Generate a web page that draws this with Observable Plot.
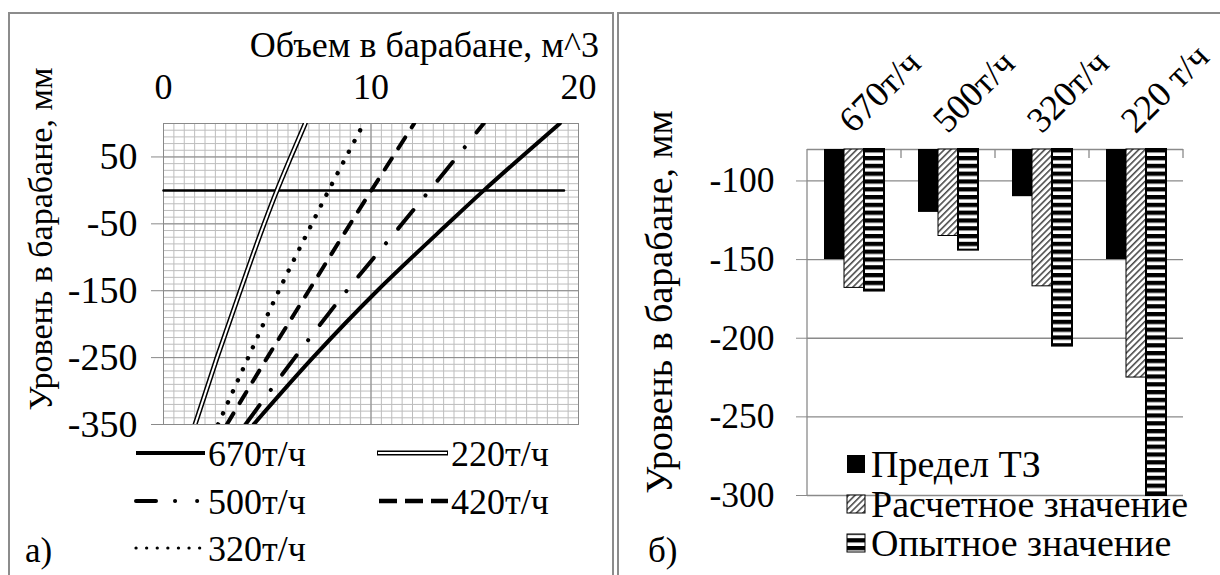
<!DOCTYPE html>
<html><head><meta charset="utf-8">
<script src="https://cdn.jsdelivr.net/npm/d3@7"></script>
<script src="https://cdn.jsdelivr.net/npm/@observablehq/plot@0.6"></script>
<style>
body{margin:0;background:#fff;}
#root{position:relative;width:1220px;height:575px;overflow:hidden;font-family:'Liberation Serif','Times New Roman','DejaVu Serif',serif;color:#000;background:#fff;}
.plot{position:absolute;top:0;}
.bl{position:absolute;background:#8c8c8c;}
#overlay{position:absolute;left:0;top:0;pointer-events:none;}
</style></head>
<body><div id="root">
<svg width="0" height="0" style="position:absolute">
<defs>
<pattern id="hatch" patternUnits="userSpaceOnUse" width="4.5" height="4.5" patternTransform="rotate(45)">
<rect width="4.5" height="4.5" fill="#fff"/>
<line x1="0.8" y1="0" x2="0.8" y2="4.5" stroke="#333" stroke-width="1.4"/>
</pattern>
<pattern id="stripes" patternUnits="userSpaceOnUse" width="10" height="7.8">
<rect width="10" height="7.8" fill="#fff"/>
<rect width="10" height="4.3" fill="#000"/>
</pattern>
</defs></svg>
<div class="bl" style="left:8px;top:12px;width:1.5px;height:563px"></div>
<div class="bl" style="left:8px;top:12px;width:605px;height:1.5px"></div>
<div class="bl" style="left:612px;top:12px;width:1.5px;height:563px"></div>
<div class="bl" style="left:617px;top:12px;width:1.5px;height:563px"></div>
<div class="bl" style="left:617px;top:12px;width:603px;height:1.5px"></div>
</div>
<script>
// ---------- Left chart data (a) ----------
const yLevels = [-350, -250, -150, -50, 0, 50, 100];
const x670 = [4.34, 7.2, 10.3, 13.7, 15.44, 17.25, 19.1];
const x500 = [3.95, 6.33, 8.83, 11.5, 12.82, 14.14, 15.43];
const x420 = [3.05, 5.0, 7.0, 9.0, 10.02, 11.05, 12.08];
const x320 = [2.63, 4.08, 5.56, 7.15, 7.96, 8.8, 9.65];
const x220 = [1.52, 2.58, 3.7, 4.85, 5.47, 6.14, 6.83];
const zeroLineX = [0, 19.3];
const zeroLineY = [0, 0];
const xTicksLeft = [0, 10, 20];
const yTicksLeft = [50, -50, -150, -250, -350];
const leftXTitle = "Объем в барабане, м^3";
const yTitle = "Уровень в барабане, мм";
const legendLeft = ["670т/ч", "220т/ч", "500т/ч", "420т/ч", "320т/ч"];

// ---------- Right chart data (б) ----------
const categories = ["670т/ч", "500т/ч", "320т/ч", "220 т/ч"];
const seriesNames = ["Предел ТЗ", "Расчетное значение", "Опытное значение"];
const limitTZ = [-150, -120, -110, -150];
const calcValue = [-168, -135, -167, -225];
const expValue = [-170, -144, -205, -300];
const yTicksRight = [-100, -150, -200, -250, -300];
const axisTop = -80;

const FONT = "'Liberation Serif','Times New Roman','DejaVu Serif',serif";
const FS_L_XTICK = 36, FS_L_YTICK = 38, FS_L_TITLE = 36, FS_L_YLAB = 34, FS_L_LEG = 36;
const FS_R_TICK = 35.5, FS_R_CAT = 36, FS_R_YLAB = 38, FS_R_LEG = 38;
const GRID_MINOR = "#bdbdbd";
const GRID_MAJOR = "#8a8a8a";
const fmt = d => String(d);

const root = document.getElementById("root");

// ---- Left plot ----
const rows = yLevels.map((y, i) => ({y, x670: x670[i], x500: x500[i], x420: x420[i], x320: x320[i], x220: x220[i]}));
const zeroRows = zeroLineX.map((x, i) => ({x, y: zeroLineY[i]}));
const minorX = d3.range(0, 20.0001, 0.5);
const minorY = d3.range(-350, 100.0001, 10);

const styles = {
  s670: {strokeWidth: 4},
  s500: {strokeWidth: 4, strokeDasharray: "24,19,0.1,19", strokeLinecap: "round"},
  s420: {strokeWidth: 4, strokeDasharray: "13,12", strokeLinecap: "round"},
  s320: {strokeWidth: 4.4, strokeDasharray: "0.1,12", strokeLinecap: "round"}
};

const leftPlot = Plot.plot({
  width: 610, height: 440,
  marginLeft: 163, marginRight: 32, marginTop: 123, marginBottom: 16,
  style: {fontFamily: FONT, fontSize: FS_L_YTICK + "px", background: "transparent", overflow: "visible", color: "#000"},
  x: {domain: [0, 20]},
  y: {domain: [-350, 100]},
  marks: [
    Plot.gridX(minorX, {stroke: GRID_MINOR, strokeOpacity: 1}),
    Plot.gridY(minorY, {stroke: GRID_MINOR, strokeOpacity: 1}),
    Plot.gridX(xTicksLeft, {stroke: GRID_MAJOR, strokeOpacity: 1}),
    Plot.gridY(yTicksLeft, {stroke: GRID_MAJOR, strokeOpacity: 1}),
    Plot.frame({stroke: GRID_MAJOR}),
    Plot.axisX(xTicksLeft, {anchor: "top", tickSize: 0, tickPadding: 25, label: null, fill: "#000", fontSize: FS_L_XTICK, tickFormat: fmt}),
    Plot.axisY(yTicksLeft, {anchor: "left", tickSize: 12, tickPadding: 14, label: null, stroke: GRID_MAJOR, fill: "#000", fontSize: FS_L_YTICK, tickFormat: fmt}),
    Plot.line(zeroRows, {x: "x", y: "y", stroke: "#000", strokeWidth: 2.5}),
    Plot.line(rows, {x: "x220", y: "y", stroke: "#000", strokeWidth: 5, curve: "monotone-y", clip: true}),
    Plot.line(rows, {x: "x220", y: "y", stroke: "#fff", strokeWidth: 2, curve: "monotone-y", clip: true}),
    Plot.line(rows, {x: "x320", y: "y", stroke: "#000", curve: "monotone-y", clip: true, ...styles.s320}),
    Plot.line(rows, {x: "x420", y: "y", stroke: "#000", curve: "monotone-y", clip: true, ...styles.s420}),
    Plot.line(rows, {x: "x500", y: "y", stroke: "#000", curve: "monotone-y", clip: true, ...styles.s500}),
    Plot.line(rows, {x: "x670", y: "y", stroke: "#000", curve: "monotone-y", clip: true, ...styles.s670})
  ]
});
leftPlot.classList.add("plot");
leftPlot.style.left = "0px";
root.appendChild(leftPlot);

// ---- Right plot ----
const valuesBySeries = [limitTZ, calcValue, expValue];
const barRows = categories.flatMap((c, i) => seriesNames.map((s, j) => ({cat: c, series: s, value: valuesBySeries[j][i]})));
const fills = ["#000", "url(#hatch)", "url(#stripes)"];
const strokes = [{}, {stroke: "#000", strokeWidth: 1}, {stroke: "#000", strokeWidth: 2}];

const rightPlot = Plot.plot({
  width: 603, height: 575,
  marginLeft: 190, marginRight: 37, marginTop: 149, marginBottom: 80,
  style: {fontFamily: FONT, fontSize: FS_R_TICK + "px", background: "transparent", overflow: "visible", color: "#000"},
  fx: {domain: categories, padding: 0, axis: null},
  x: {domain: seriesNames, paddingInner: 0, paddingOuter: 0.77, axis: null},
  y: {domain: [-300, axisTop], axis: null},
  marks: [
    Plot.gridY(yTicksRight, {stroke: GRID_MAJOR, strokeOpacity: 1, strokeWidth: 1.3}),
    Plot.ruleY([axisTop], {stroke: GRID_MAJOR, strokeWidth: 1.3}),
    Plot.axisY(yTicksRight, {anchor: "left", tickSize: 11, tickPadding: 22, label: null, stroke: GRID_MAJOR, fill: "#000", fontSize: FS_R_TICK, tickFormat: fmt}),
    ...seriesNames.map((s, j) => Plot.barY(barRows.filter(d => d.series === s), {
      fx: "cat", x: "series", y1: () => axisTop, y2: "value", fill: fills[j], inset: 0, ...strokes[j]
    })),
    Plot.text(categories, {fx: d => d, text: d => d, frameAnchor: "top", rotate: -45, textAnchor: "start", dx: -19, dy: -33, fontSize: FS_R_CAT, fill: "#000"})
  ]
});
rightPlot.classList.add("plot");
rightPlot.style.left = "617px";
root.appendChild(rightPlot);

// category boundary ticks and left axis line via the plot's scales
{
  const fx = rightPlot.scale("fx"), y = rightPlot.scale("y");
  const g = d3.select(rightPlot).append("g").attr("stroke", GRID_MAJOR).attr("stroke-width", 1.3);
  const y0 = y.apply(axisTop), y1 = y.apply(-300);
  const left = fx.apply(categories[0]);
  g.append("line").attr("x1", left).attr("x2", left).attr("y1", y0).attr("y2", y1);
  categories.forEach(c => {
    const xr = fx.apply(c) + fx.bandwidth;
    g.append("line").attr("x1", xr).attr("x2", xr).attr("y1", y0).attr("y2", y0 + 9);
  });
}

// ---- Overlay texts & legends ----
const ov = d3.select(root).append("svg").attr("id", "overlay").attr("width", 1220).attr("height", 575)
  .style("font-family", FONT);

ov.append("text").attr("x", 599).attr("y", 57).attr("text-anchor", "end").style("font-size", FS_L_TITLE + "px").text(leftXTitle);
ov.append("text").attr("transform", "translate(40,239) rotate(-90)").attr("text-anchor", "middle").attr("dy", "0.35em").style("font-size", FS_L_YLAB + "px").text(yTitle);
ov.append("text").attr("transform", "translate(659,302) rotate(-90)").attr("text-anchor", "middle").attr("dy", "0.35em").style("font-size", FS_R_YLAB + "px").text(yTitle);
ov.append("text").attr("x", 25).attr("y", 550).attr("dy", "0.35em").style("font-size", "35px").text("а)");
ov.append("text").attr("x", 648).attr("y", 550).attr("dy", "0.35em").style("font-size", "35px").text("б)");

// left legend
const legItems = [
  {label: legendLeft[0], x: 134, y: 453, st: styles.s670},
  {label: legendLeft[1], x: 377, y: 453, dbl: true},
  {label: legendLeft[2], x: 134, y: 501, st: {strokeWidth: 4, strokeDasharray: "20,19,0.1,22,0.1,50", strokeLinecap: "round"}},
  {label: legendLeft[3], x: 377, y: 501, st: {strokeWidth: 4.5, strokeDasharray: "18,8", strokeLinecap: "butt"}},
  {label: legendLeft[4], x: 134, y: 548, st: {strokeWidth: 3.2, strokeDasharray: "0.1,10.5", strokeLinecap: "round"}, len: 66}
];
legItems.forEach(it => {
  if (it.dbl) {
    ov.append("line").attr("x1", it.x).attr("x2", it.x + 71).attr("y1", it.y).attr("y2", it.y).attr("stroke", "#000").attr("stroke-width", 5);
    ov.append("line").attr("x1", it.x + 1).attr("x2", it.x + 70).attr("y1", it.y).attr("y2", it.y).attr("stroke", "#fff").attr("stroke-width", 2);
  } else {
    ov.append("line").attr("x1", it.x + 2).attr("x2", it.x + (it.len || 71)).attr("y1", it.y).attr("y2", it.y).attr("stroke", "#000")
      .attr("stroke-width", it.st.strokeWidth).attr("stroke-dasharray", it.st.strokeDasharray || null).attr("stroke-linecap", it.st.strokeLinecap || "butt");
  }
  ov.append("text").attr("x", it.x + 74).attr("y", it.y).attr("dy", "0.35em").style("font-size", FS_L_LEG + "px").text(it.label);
});

// right legend
const legY = [464, 504, 543];
seriesNames.forEach((s, j) => {
  ov.append("rect").attr("x", 847).attr("y", legY[j] - 9).attr("width", 18).attr("height", 18)
    .attr("fill", fills[j]).attr("stroke", j ? "#000" : "none").attr("stroke-width", 1);
  ov.append("text").attr("x", 871).attr("y", legY[j]).attr("dy", "0.35em").style("font-size", FS_R_LEG + "px").text(s);
});
</script>
</body></html>
